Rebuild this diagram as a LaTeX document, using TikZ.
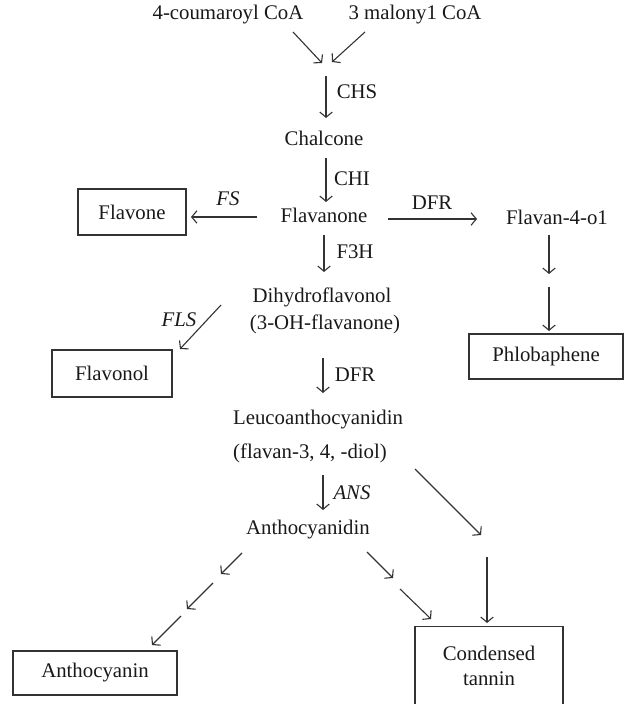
\documentclass[tikz,border=0pt]{standalone}
\usepackage{fontspec}
\setmainfont{Liberation Serif}
\usetikzlibrary{arrows.meta}
\begin{document}
\begin{tikzpicture}[x=0.5pt,y=-0.5pt,font=\fontsize{10.4}{12.5}\selectfont]
	\tikzset{>={Straight Barb[length=2.6pt,width=6.2pt]}}
	\tikzset{lbl/.style={inner sep=0pt,text=black!90},
		box/.style={draw=black!80,line width=0.65pt,inner sep=0pt,text=black!90},
		arr/.style={->,draw=black!80,line width=0.55pt}}
	\useasboundingbox (0,0) rectangle (624,704);
	\clip (0,0) rectangle (624,704);
	
	\coordinate (coumEnd) at (322,63);
	\coordinate (coumStart) at (293,32);
	\coordinate (maloStart) at (365,32);
	\coordinate (maloEnd) at (332,62);
	\coordinate (chsTop) at (326,76);
	\coordinate (chsBot) at (326,118);
	\coordinate (chiTop) at (326,158);
	\coordinate (chiBot) at (326,202);
	\coordinate (fsStart) at (257,217);
	\coordinate (fsEnd) at (191,217);
	\coordinate (dfrStart) at (388,219);
	\coordinate (dfrEnd) at (477,219);
	\coordinate (fthTop) at (324,235);
	\coordinate (fthBot) at (324,272);
	\coordinate (flsStart) at (221,305);
	\coordinate (flsEnd) at (180,349);
	\coordinate (fvTopA) at (549,235);
	\coordinate (fvBotA) at (549,274);
	\coordinate (fvTopB) at (549,287);
	\coordinate (fvBotB) at (549,331);
	\coordinate (dfrTop) at (323,358);
	\coordinate (dfrBot) at (323,393);
	\coordinate (ansTop) at (323,475);
	\coordinate (ansBot) at (323,510);
	\coordinate (leuStart) at (415,469);
	\coordinate (leuEnd) at (481,535);
	\coordinate (tanTop) at (487,557);
	\coordinate (tanBot) at (487,623);
	\coordinate (rA1) at (367,552);
	\coordinate (rA2) at (393,578);
	\coordinate (rB1) at (400,589);
	\coordinate (rB2) at (431,619);
	\coordinate (lA1) at (242,553);
	\coordinate (lA2) at (221,574);
	\coordinate (lB1) at (213,583);
	\coordinate (lB2) at (187,609);
	\coordinate (lC1) at (181,616);
	\coordinate (lC2) at (152,645);
	
	\node[lbl] (coum) at (228,15) {4-coumaroyl CoA};
	\node[lbl] (malo) at (415,15) {3 malony1 CoA};
	\node[lbl] (chs) at (357,92) {CHS};
	\node[lbl] (chalcone) at (324,138) {Chalcone};
	\node[lbl] (chi) at (352,179) {CHI};
	\node[lbl] (flavanone) at (324,215) {Flavanone};
	\node[lbl] (fs) at (228,199) {\itshape FS};
	\node[lbl] (dfrA) at (432,203) {DFR};
	\node[lbl] (flavanol) at (557,217) {Flavan-4-o1};
	\node[lbl] (fth) at (355,252) {F3H};
	\node[lbl] (dihydro) at (322,297) {Dihydroflavonol};
	\node[lbl] (oh) at (325,324) {(3-OH-flavanone)};
	\node[lbl] (fls) at (179,320) {\itshape FLS};
	\node[lbl] (dfrB) at (355,375) {DFR};
	\node[lbl] (leuco) at (318,420) {Leucoanthocyanidin};
	\node[lbl] (diol) at (310,453) {(flavan-3, 4, -diol)};
	\node[lbl] (ans) at (352,493) {\itshape ANS};
	\node[lbl] (anthod) at (308,530) {Anthocyanidin};
	
	\node[box,minimum width=54pt,minimum height=23pt] (flavone) at (132,212) {Flavone};
	\node[box,minimum width=60pt,minimum height=23.5pt] (flavonol) at (112,373.5) {Flavonol};
	\node[box,minimum width=77pt,minimum height=22.5pt] (phlob) at (546,356.5) {Phlobaphene};
	\node[box,minimum width=82pt,minimum height=22pt] (anthoc) at (95,673) {Anthocyanin};
	\node[box,minimum width=74pt,inner ysep=9.5pt,align=center,anchor=north] (tannin) at (489,626)
		{Condensed\\tannin\rule[-30pt]{0pt}{0pt}};
	
	\draw[arr] (coumStart) -- (coumEnd);
	\draw[arr] (maloStart) -- (maloEnd);
	\draw[arr] (chsTop) -- (chsBot);
	\draw[arr] (chiTop) -- (chiBot);
	\draw[arr] (fsStart) -- (fsEnd);
	\draw[arr] (dfrStart) -- (dfrEnd);
	\draw[arr] (fthTop) -- (fthBot);
	\draw[arr] (flsStart) -- (flsEnd);
	\draw[arr] (fvTopA) -- (fvBotA);
	\draw[arr] (fvTopB) -- (fvBotB);
	\draw[arr] (dfrTop) -- (dfrBot);
	\draw[arr] (ansTop) -- (ansBot);
	\draw[arr] (leuStart) -- (leuEnd);
	\draw[arr] (tanTop) -- (tanBot);
	\draw[arr] (rA1) -- (rA2);
	\draw[arr] (rB1) -- (rB2);
	\draw[arr] (lA1) -- (lA2);
	\draw[arr] (lB1) -- (lB2);
	\draw[arr] (lC1) -- (lC2);
	
\end{tikzpicture}
\end{document}
